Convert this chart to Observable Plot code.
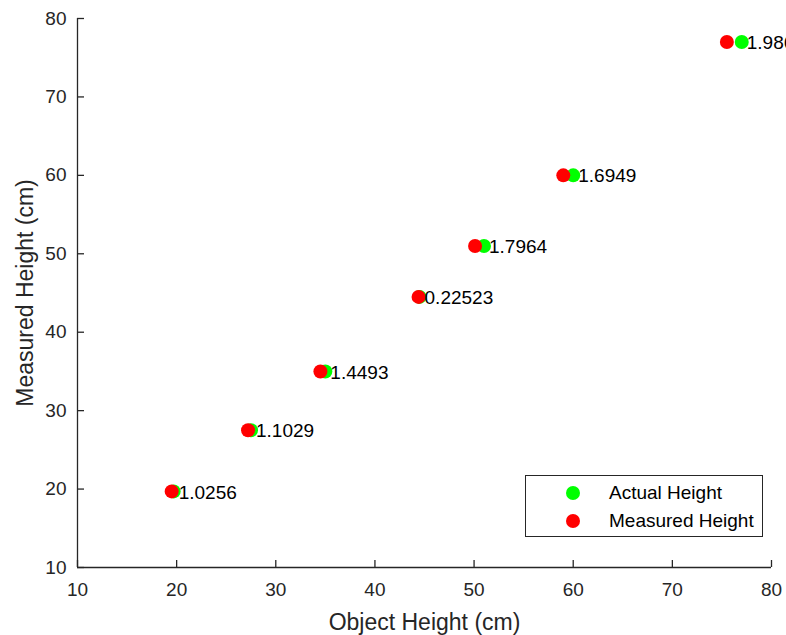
<!DOCTYPE html>
<html>
<head>
<meta charset="utf-8">
<script src="https://cdn.jsdelivr.net/npm/d3@7"></script>
<script src="https://cdn.jsdelivr.net/npm/@observablehq/plot@0.6"></script>
<style>
  html, body { margin: 0; padding: 0; background: #fff; }
  #wrap { position: relative; width: 786px; height: 635px; overflow: hidden; font-family: "Liberation Sans", Arial, Helvetica, sans-serif; }
  #legend { position: absolute; left: 525px; top: 475px; width: 238px; height: 62px; border: 1px solid #262626; background: #fff; box-sizing: border-box; }
  .lg-dot { position: absolute; width: 14px; height: 14px; border-radius: 50%; }
  .lg-text { position: absolute; white-space: nowrap; }
</style>
</head>
<body>
<div id="wrap"></div>
<script>
// ---- data ----
const actualHeight   = [19.7, 27.5, 35, 44.5, 51, 60, 77];
const measuredHeight = [19.5, 27.2, 34.5, 44.4, 50.1, 59, 75.5];
const errorLabels    = ["1.0256", "1.1029", "1.4493", "0.22523", "1.7964", "1.6949", "1.9868"];
const xTicks = [10, 20, 30, 40, 50, 60, 70, 80];
const yTicks = [10, 20, 30, 40, 50, 60, 70, 80];
const seriesNames  = ["Actual Height", "Measured Height"];
const seriesColors = ["#00ff00", "#ff0000"];
const xTitle = "Object Height (cm)";
const yTitle = "Measured Height (cm)";

const rows = actualHeight.map((a, i) => ({actual: a, measured: measuredHeight[i], label: errorLabels[i]}));
const axisColor = "#262626";
const font = "'Liberation Sans', Arial, Helvetica, sans-serif";

const chart = Plot.plot({
  width: 786,
  height: 635,
  marginLeft: 77,
  marginRight: 15,
  marginTop: 18,
  marginBottom: 68,
  style: {fontFamily: font, fontSize: "19px", background: "transparent", overflow: "visible"},
  x: {domain: [xTicks[0], xTicks[xTicks.length - 1]]},
  y: {domain: [yTicks[0], yTicks[yTicks.length - 1]]},
  marks: [
    Plot.ruleX([xTicks[0]], {stroke: axisColor, strokeWidth: 1.3}),
    Plot.ruleY([yTicks[0]], {stroke: axisColor, strokeWidth: 1.3}),
    Plot.axisX({ticks: xTicks, tickSize: -7, tickPadding: 22, tickFormat: d => String(d), label: null, color: axisColor, strokeWidth: 1.3, fontSize: 19}),
    Plot.axisY({ticks: yTicks, tickSize: -7, tickPadding: 18, tickFormat: d => String(d), label: null, color: axisColor, strokeWidth: 1.3, fontSize: 19}),
    Plot.dot(rows, {x: "actual", y: "actual", r: 7, fill: seriesColors[0], stroke: null}),
    Plot.dot(rows, {x: "measured", y: "actual", r: 7, fill: seriesColors[1], stroke: null}),
    Plot.text(rows, {x: "actual", y: "actual", text: "label", textAnchor: "start", dx: 5, dy: 1, fontSize: 19, fill: "#000"}),
    Plot.text([xTitle], {text: d => d, frameAnchor: "bottom", dy: 55, fontSize: 23, fill: axisColor, lineAnchor: "middle"}),
    Plot.text([yTitle], {text: d => d, frameAnchor: "left", dx: -52, rotate: -90, fontSize: 23, fill: axisColor, lineAnchor: "middle", textAnchor: "middle"})
  ]
});

const wrap = document.getElementById("wrap");
wrap.appendChild(chart);

// legend (HTML overlay)
const legend = document.createElement("div");
legend.id = "legend";
seriesNames.forEach((name, i) => {
  const dot = document.createElement("div");
  dot.className = "lg-dot";
  dot.style.background = seriesColors[i];
  dot.style.left = (47 - 7) + "px";
  dot.style.top = (17 + i * 28 - 7) + "px";
  legend.appendChild(dot);
  const t = document.createElement("div");
  t.className = "lg-text";
  t.textContent = name;
  t.style.left = "83px";
  t.style.top = (17 + i * 28 - 11) + "px";
  t.style.fontSize = "19px";
  t.style.lineHeight = "22px";
  t.style.color = "#000";
  legend.appendChild(t);
});
wrap.appendChild(legend);
</script>
</body>
</html>
